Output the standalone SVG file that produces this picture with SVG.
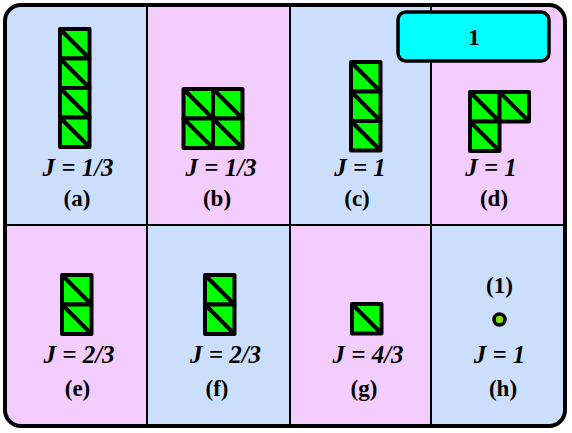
<svg xmlns="http://www.w3.org/2000/svg" width="572" height="433" viewBox="0 0 572 433">
<style>
.blue{fill:#cbdffc}
.pink{fill:#f3cdfd}
.div{stroke:#000;stroke-width:2;fill:none}
.t{fill:#00ff00;stroke:#000;stroke-width:4;stroke-linejoin:round}
.d{stroke:#000;stroke-width:4;stroke-linecap:butt}
.j{font-family:'Liberation Serif','Times New Roman',serif;font-weight:bold;font-style:italic;font-size:25px;text-anchor:middle;fill:#000}
.l{font-family:'Liberation Serif','Times New Roman',serif;font-weight:bold;font-size:23px;text-anchor:middle;fill:#000}
</style>
<defs>
<clipPath id="frame"><rect x="5" y="5" width="560" height="421" rx="16"/></clipPath>
<g id="tile"><rect class="t" x="0" y="0" width="29.5" height="29.5"/><line class="d" x1="0" y1="0" x2="29.5" y2="29.5"/></g>
</defs>
<g clip-path="url(#frame)">
<rect class="blue" x="5" y="5" width="142" height="220"/>
<rect class="pink" x="147" y="5" width="143" height="220"/>
<rect class="blue" x="290" y="5" width="141" height="220"/>
<rect class="pink" x="431" y="5" width="134" height="220"/>
<rect class="pink" x="5" y="225" width="142" height="201"/>
<rect class="blue" x="147" y="225" width="143" height="201"/>
<rect class="pink" x="290" y="225" width="141" height="201"/>
<rect class="blue" x="431" y="225" width="134" height="201"/>
</g>
<g id="grid">
<line class="div" x1="147" y1="5" x2="147" y2="426"/>
<line class="div" x1="290" y1="5" x2="290" y2="426"/>
<line class="div" x1="431" y1="5" x2="431" y2="426"/>
<line class="div" x1="5" y1="225" x2="565" y2="225"/>
</g>
<rect x="5" y="5" width="560" height="421" rx="16" fill="none" stroke="#000" stroke-width="4"/>
<g id="cell-a">
<use href="#tile" x="60" y="29"/><use href="#tile" x="60" y="58.5"/><use href="#tile" x="60" y="88"/><use href="#tile" x="60" y="117.5"/>
<text class="j" x="78" y="176">J = 1/3</text>
<text class="l" x="77" y="206">(a)</text>
</g>
<g id="cell-b">
<use href="#tile" x="183.5" y="89"/><use href="#tile" x="213" y="89"/><use href="#tile" x="183.5" y="118.5"/><use href="#tile" x="213" y="118.5"/>
<text class="j" x="221" y="176">J = 1/3</text>
<text class="l" x="217" y="206">(b)</text>
</g>
<g id="cell-c">
<use href="#tile" x="351" y="62"/><use href="#tile" x="351" y="91.5"/><use href="#tile" x="351" y="121"/>
<text class="j" x="360" y="176">J = 1</text>
<text class="l" x="357" y="206">(c)</text>
</g>
<g id="cell-d">
<use href="#tile" x="470" y="92"/><use href="#tile" x="499.5" y="92"/><use href="#tile" x="470" y="121.5"/>
<text class="j" x="491" y="176">J = 1</text>
<text class="l" x="494" y="206">(d)</text>
</g>
<g id="cell-e">
<use href="#tile" x="62" y="275"/><use href="#tile" x="62" y="304.5"/>
<text class="j" x="79" y="363">J = 2/3</text>
<text class="l" x="77.5" y="396">(e)</text>
</g>
<g id="cell-f">
<use href="#tile" x="205" y="275"/><use href="#tile" x="205" y="304.5"/>
<text class="j" x="225.5" y="363">J = 2/3</text>
<text class="l" x="217" y="396">(f)</text>
</g>
<g id="cell-g">
<use href="#tile" x="352" y="304"/>
<text class="j" x="368" y="363">J = 4/3</text>
<text class="l" x="364" y="396">(g)</text>
</g>
<g id="cell-h">
<text class="l" x="499.5" y="293">(1)</text>
<circle cx="499.5" cy="319.5" r="5.5" fill="#80e000" stroke="#000" stroke-width="3.5"/>
<text class="j" x="499.5" y="363">J = 1</text>
<text class="l" x="503" y="396">(h)</text>
</g>
<g id="badge">
<rect x="398" y="12" width="151" height="49" rx="8" fill="#00ffff" stroke="#000" stroke-width="3.5"/>
<text class="l" x="474" y="45" style="font-size:24px">1</text>
</g>
</svg>
